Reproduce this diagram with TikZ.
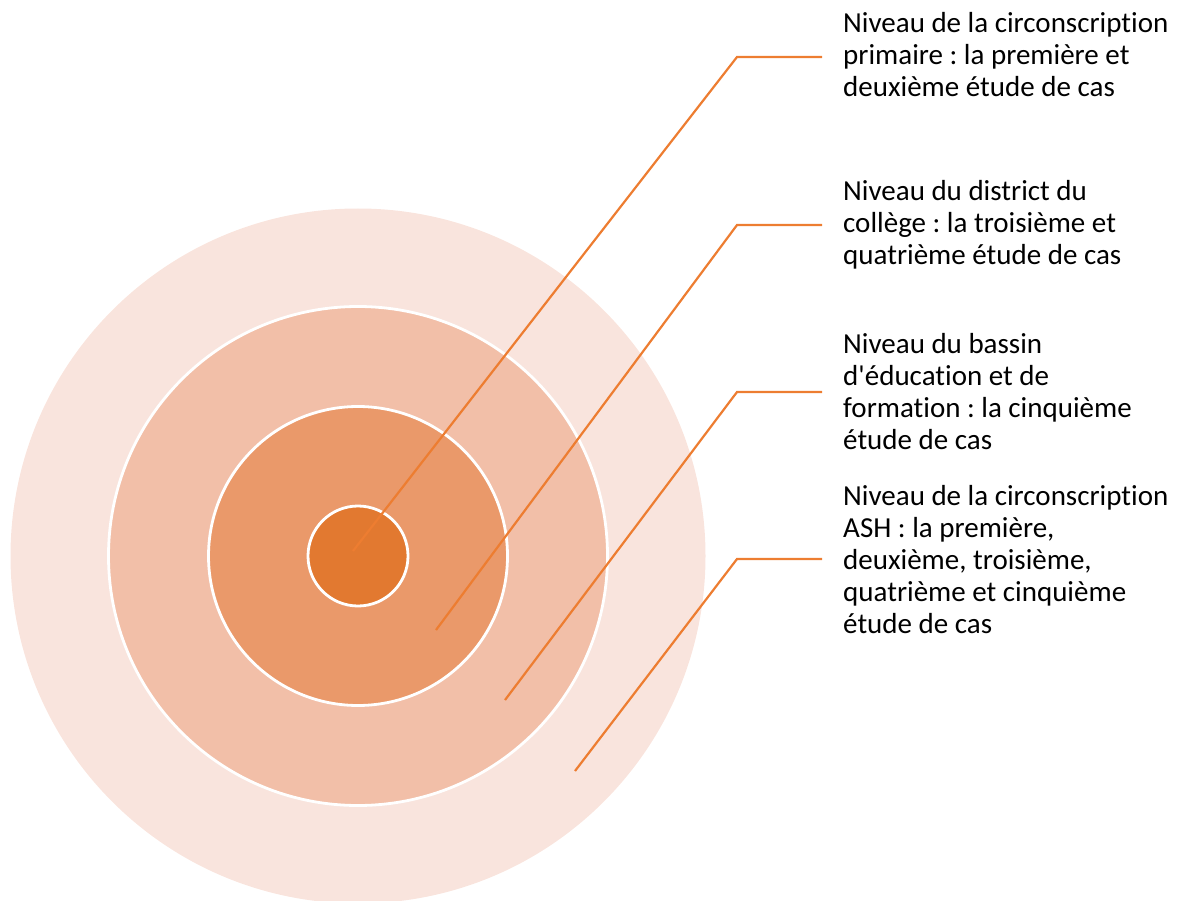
\documentclass[tikz,border=0pt]{standalone}
\usepackage{fontspec}
\setmainfont{Carlito}[Ligatures={NoCommon}]
\definecolor{ringA}{HTML}{F9E4DD}
\definecolor{ringB}{HTML}{F2BFA8}
\definecolor{ringC}{HTML}{EA996A}
\definecolor{ringD}{HTML}{E27930}
\definecolor{leadorange}{HTML}{ED7D31}
\frenchspacing
\begin{document}
\begin{tikzpicture}[x=1pt,y=-1pt,
  ring/.style={circle, draw=white, line width=2.8pt, inner sep=0pt},
  lead/.style={draw=leadorange, line width=2.2pt},
  lbl/.style={anchor=base west, align=left, inner sep=0pt, font=\fontsize{29}{32}\selectfont}]
\useasboundingbox (0,0) rectangle (1183,901);
\clip (0,0) rectangle (1183,901);
\node[ring, draw=none, minimum size=695pt, fill=ringA] (r4) at (358,556) {};
\node[ring, minimum size=499pt, fill=ringB] (r3) at (358,556) {};
\node[ring, minimum size=299pt, fill=ringC] (r2) at (358,556) {};
\node[ring, minimum size=100pt, fill=ringD] (r1) at (358,556) {};
% leader points
\coordinate (s1) at (353,551);
\coordinate (e1) at (737,57);
\coordinate (k1) at (822,57);
\coordinate (s2) at (436,630);
\coordinate (e2) at (737,225);
\coordinate (k2) at (822,225);
\coordinate (s3) at (505,700);
\coordinate (e3) at (737,392);
\coordinate (k3) at (822,392);
\coordinate (s4) at (575,771);
\coordinate (e4) at (737,559);
\coordinate (k4) at (822,559);
\draw[lead] (s1) -- (e1) -- (k1);
\draw[lead] (s2) -- (e2) -- (k2);
\draw[lead] (s3) -- (e3) -- (k3);
\draw[lead] (s4) -- (e4) -- (k4);
% labels (anchor = baseline of last line)
\node[lbl] (t1) at (843,97) {Niveau de la circonscription\\primaire : la première et\\deuxième étude de cas};
\node[lbl] (t2) at (843,265) {Niveau du district du\\collège : la troisième et\\quatrième étude de cas};
\node[lbl] (t3) at (843,449) {Niveau du bassin\\d\textquotesingle éducation et de\\formation : la cinquième\\étude de cas};
\node[lbl] (t4) at (843,633) {Niveau de la circonscription\\ASH : la première,\\deuxième, troisième,\\quatrième et cinquième\\étude de cas};
\end{tikzpicture}
\end{document}
